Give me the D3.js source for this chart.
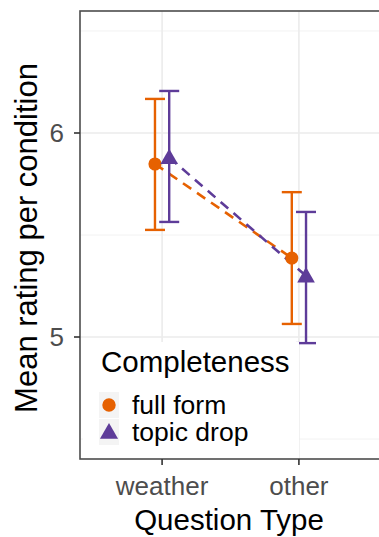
<!DOCTYPE html>
<html><head><meta charset="utf-8">
<script src="https://cdn.jsdelivr.net/npm/d3@7"></script>
<style>html,body{margin:0;padding:0;background:#fff;}svg{display:block;font-family:"Liberation Sans",Arial,Helvetica,sans-serif;}</style>
</head><body>
<script>
const categories = ["weather", "other"];
const groups = ["full form", "topic drop"];
const fullMean = [5.848, 5.387];
const fullLo = [5.525, 5.064];
const fullHi = [6.167, 5.710];
const dropMean = [5.880, 5.300];
const dropLo = [5.564, 4.970];
const dropHi = [6.206, 5.613];
const yTicks = [5, 6];
const yMinor = [4.5, 5.5, 6.5];
const colors = ["#e66101", "#5e3c99"];
const xTitle = "Question Type";
const yTitle = "Mean rating per condition";
const legendTitle = "Completeness";

const W = 379, H = 537;
const P = {l: 80, t: 11, r: 381, b: 459};
const svg = d3.select("body").append("svg").attr("width", W).attr("height", H);

const x = d3.scalePoint().domain(categories).range([P.l, P.r]).padding(0.6);
const dodge = d3.scalePoint().domain(groups).range([-x.step() * 0.052, x.step() * 0.052]);
const y = d3.scaleLinear().domain([4.402, 6.598]).range([P.b, P.t]);

const series = groups.map((g, gi) => ({
  group: g, color: colors[gi],
  pts: categories.map((c, ci) => ({
    cat: c,
    mean: gi === 0 ? fullMean[ci] : dropMean[ci],
    lo: gi === 0 ? fullLo[ci] : dropLo[ci],
    hi: gi === 0 ? fullHi[ci] : dropHi[ci]
  }))
}));

// panel
svg.append("rect").attr("x", P.l).attr("y", P.t).attr("width", P.r - P.l).attr("height", P.b - P.t).attr("fill", "#fff");
const grid = svg.append("g");
yMinor.forEach(v => grid.append("line").attr("x1", P.l).attr("x2", P.r).attr("y1", y(v)).attr("y2", y(v)).attr("stroke", "#f2f2f2").attr("stroke-width", 1));
yTicks.forEach(v => grid.append("line").attr("x1", P.l).attr("x2", P.r).attr("y1", y(v)).attr("y2", y(v)).attr("stroke", "#ebebeb").attr("stroke-width", 1.6));
categories.forEach(c => grid.append("line").attr("x1", x(c)).attr("x2", x(c)).attr("y1", P.t).attr("y2", P.b).attr("stroke", "#ebebeb").attr("stroke-width", 1.6));

// dashed lines
const line = d3.line().x(d => d.px).y(d => y(d.mean));
series.forEach(s => {
  svg.append("path").datum(s.pts.map(p => ({...p, px: x(p.cat) + dodge(s.group)})))
    .attr("d", line).attr("fill", "none").attr("stroke", s.color)
    .attr("stroke-width", 2.6).attr("stroke-dasharray", "10,7");
});

// error bars
const capW = 10;
series.forEach(s => {
  const g = svg.append("g").attr("stroke", s.color).attr("stroke-width", 2.4).attr("fill", "none");
  s.pts.forEach(p => {
    const cx = x(p.cat) + dodge(s.group);
    g.append("line").attr("x1", cx).attr("x2", cx).attr("y1", y(p.lo)).attr("y2", y(p.hi));
    g.append("line").attr("x1", cx - capW).attr("x2", cx + capW).attr("y1", y(p.lo)).attr("y2", y(p.lo));
    g.append("line").attr("x1", cx - capW).attr("x2", cx + capW).attr("y1", y(p.hi)).attr("y2", y(p.hi));
  });
});

// points
const shapes = [d3.symbolCircle, d3.symbolTriangle];
const sizes = [135, 135];
series.forEach((s, si) => {
  s.pts.forEach(p => {
    const cx = x(p.cat) + dodge(s.group);
    svg.append("path").attr("d", d3.symbol().type(shapes[si]).size(sizes[si])())
      .attr("transform", `translate(${cx},${y(p.mean) + (si === 1 ? 1.5 : 0)})`)
      .attr("fill", s.color);
  });
});

// legend
const lg = svg.append("g");
lg.append("rect").attr("x", 83).attr("y", 342).attr("width", 216).attr("height", P.b - 342).attr("fill", "#fff");
lg.append("text").attr("x", 101).attr("y", 372).attr("font-size", 29.5).attr("fill", "#000").text(legendTitle);
groups.forEach((g, gi) => {
  const cy = 405 + gi * 27;
  lg.append("rect").attr("x", 99).attr("y", cy - 13).attr("width", 20).attr("height", 26).attr("fill", "#f4f4f4");
  lg.append("path").attr("d", d3.symbol().type(shapes[gi]).size(sizes[gi] * 1.05)())
    .attr("transform", `translate(109,${cy + (gi === 1 ? 1.5 : 0)})`).attr("fill", colors[gi]);
  lg.append("text").attr("x", 132).attr("y", cy + 9).attr("font-size", 26.5).attr("fill", "#000").text(g);
});

// border
svg.append("rect").attr("x", P.l).attr("y", P.t).attr("width", P.r - P.l).attr("height", P.b - P.t)
  .attr("fill", "none").attr("stroke", "#4d4d4d").attr("stroke-width", 1.6);

// axes
const ax = svg.append("g").attr("fill", "#4d4d4d");
yTicks.forEach(v => {
  ax.append("line").attr("x1", P.l - 6).attr("x2", P.l).attr("y1", y(v)).attr("y2", y(v)).attr("stroke", "#333").attr("stroke-width", 1.6);
  ax.append("text").attr("x", P.l - 16).attr("y", y(v)).attr("dy", "0.36em").attr("text-anchor", "end").attr("font-size", 26).text(d3.format("d")(v));
});
categories.forEach(c => {
  ax.append("line").attr("x1", x(c)).attr("x2", x(c)).attr("y1", P.b).attr("y2", P.b + 6).attr("stroke", "#333").attr("stroke-width", 1.6);
  ax.append("text").attr("x", x(c)).attr("y", 495).attr("text-anchor", "middle").attr("font-size", 26).text(c);
});
svg.append("text").attr("x", (P.l + 378) / 2).attr("y", 530).attr("text-anchor", "middle").attr("font-size", 29.5).attr("fill", "#000").text(xTitle);
svg.append("text").attr("transform", `translate(37,${(P.t + P.b) / 2 + 3}) rotate(-90)`).attr("text-anchor", "middle").attr("font-size", 31).attr("fill", "#000").text(yTitle);
</script>
</body></html>
